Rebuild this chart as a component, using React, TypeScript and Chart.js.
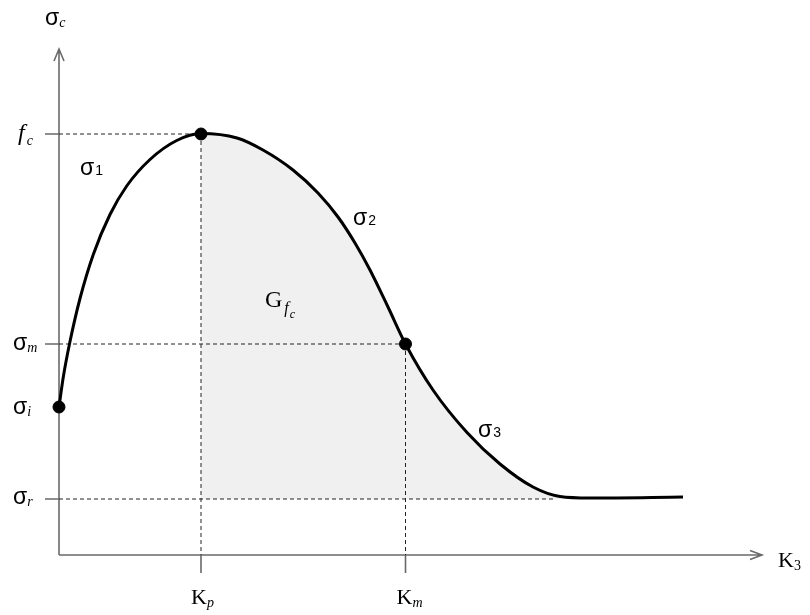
import React, { useEffect, useRef } from "react";
import { Chart, registerables } from "chart.js";

Chart.register(...registerables);

// Curve sigma_c(K3) (arbitrary units)
const K3_VALUES: number[] = [0, 0.43, 1.1, 2.1, 3.43, 5.1, 6.77, 9.1, 11.77, 14.2, 17.8, 20.4, 23.4, 25.9, 27.9, 29.6, 31.1, 32.9, 34.65, 37.4, 40.8, 44.1, 47.4, 50.1, 53.1, 62.4];
const SIGMA_VALUES: number[] = [14.8, 17.8, 21.35, 25.65, 30.05, 34.05, 36.9, 39.55, 41.45, 42.15, 41.7, 40.5, 38.5, 36.2, 33.8, 31.2, 28.5, 24.8, 21.1, 16.5, 12.25, 9.1, 6.8, 5.85, 5.7, 5.8];

// Characteristic values
const K_P = 14.2;
const K_M = 34.65;
const F_C = 42.1;
const SIGMA_M = 21.1;
const SIGMA_I = 14.8;
const SIGMA_R = 5.6;
const FILL_END = 50.1;
const SIGMA_R_LINE_END = 49.5;
const X_MAX = 70.4;
const Y_MAX = 50.6;

// Free labels: [main, subscript, x, y]
const CURVE_LABELS: [string, string, number, number][] = [
  ["σ", "1", 2.1, 38.0],
  ["σ", "2", 29.4, 33.0],
  ["σ", "3", 41.9, 11.8],
];
const AREA_LABEL: [string, number, number] = ["G", 20.6, 24.8];

const SERIF = '"Liberation Serif", "Times New Roman", serif';
const SANS = '"Liberation Sans", Arial, sans-serif';

function pts(xs: number[], ys: number[]) {
  return xs.map((x, i) => ({ x, y: ys[i] }));
}

const annotatePlugin = {
  id: "annotate",
  beforeDatasetsDraw(chart: any) {
    const ctx = chart.ctx as CanvasRenderingContext2D;
    const xs = chart.scales.x;
    const ys = chart.scales.y;
    const x0 = xs.getPixelForValue(0);
    const y0 = ys.getPixelForValue(0);
    const xEnd = xs.getPixelForValue(X_MAX) - 1;
    const yEnd = ys.getPixelForValue(Y_MAX);
    ctx.save();
    ctx.strokeStyle = "#6a6a6a";
    ctx.lineWidth = 1.6;
    ctx.lineCap = "butt";
    ctx.beginPath();
    ctx.moveTo(x0, y0);
    ctx.lineTo(x0, yEnd);
    ctx.moveTo(x0, y0);
    ctx.lineTo(xEnd, y0);
    ctx.moveTo(x0 - 5, yEnd + 12);
    ctx.lineTo(x0, yEnd);
    ctx.lineTo(x0 + 5, yEnd + 12);
    ctx.moveTo(xEnd - 12, y0 - 4.5);
    ctx.lineTo(xEnd, y0);
    ctx.lineTo(xEnd - 12, y0 + 4.5);
    for (const v of [F_C, SIGMA_M, SIGMA_R]) {
      const py = ys.getPixelForValue(v);
      ctx.moveTo(x0 - 14, py);
      ctx.lineTo(x0, py);
    }
    for (const v of [K_P, K_M]) {
      const px = xs.getPixelForValue(v);
      ctx.moveTo(px, y0);
      ctx.lineTo(px, y0 + 18);
    }
    ctx.stroke();
    ctx.restore();
  },
  afterDraw(chart: any) {
    const ctx = chart.ctx as CanvasRenderingContext2D;
    const xs = chart.scales.x;
    const ys = chart.scales.y;
    const x0 = xs.getPixelForValue(0);
    const y0 = ys.getPixelForValue(0);
    const xEnd = xs.getPixelForValue(X_MAX);
    const yEnd = ys.getPixelForValue(Y_MAX);
    ctx.save();
    ctx.fillStyle = "#000";
    ctx.textBaseline = "alphabetic";
    ctx.textAlign = "left";

    const sub = (main: string, s: string, x: number, y: number, mf: string, sf: string, dx: number, dy: number) => {
      ctx.font = mf;
      ctx.fillText(main, x, y);
      const w = ctx.measureText(main).width;
      ctx.font = sf;
      ctx.fillText(s, x + w + dx, y + dy);
    };

    const sigFont = `23px ${SANS}`;
    const subItal = `italic 14px ${SERIF}`;

    sub("σ", "c", x0 - 14, yEnd - 24, sigFont, subItal, 0, 2);
    sub("K", "3", xEnd + 15, y0 + 12, `22px ${SERIF}`, `14px ${SERIF}`, 0, 3);

    const yf = ys.getPixelForValue(F_C);
    sub("f", "c", x0 - 41, yf + 6, `italic 24px ${SERIF}`, subItal, 2, 5);
    sub("σ", "m", x0 - 46, ys.getPixelForValue(SIGMA_M) + 6, sigFont, subItal, 0, 2);
    sub("σ", "i", x0 - 46, ys.getPixelForValue(SIGMA_I) + 7, sigFont, subItal, 0, 2);
    sub("σ", "r", x0 - 46, ys.getPixelForValue(SIGMA_R) + 5, sigFont, subItal, 0, 2);

    sub("K", "p", xs.getPixelForValue(K_P) - 10, y0 + 49, `22px ${SERIF}`, subItal, 0, 3);
    sub("K", "m", xs.getPixelForValue(K_M) - 9, y0 + 49, `22px ${SERIF}`, subItal, 0, 3);

    for (const [m, s, x, y] of CURVE_LABELS) {
      sub(m, s, xs.getPixelForValue(x), ys.getPixelForValue(y), sigFont, `14px ${SANS}`, 1, 0);
    }

    const gx = xs.getPixelForValue(AREA_LABEL[1]);
    const gy = ys.getPixelForValue(AREA_LABEL[2]);
    ctx.font = `24px ${SERIF}`;
    ctx.fillText(AREA_LABEL[0], gx, gy);
    const gw = ctx.measureText(AREA_LABEL[0]).width;
    ctx.font = `italic 16px ${SERIF}`;
    ctx.fillText("f", gx + gw + 2, gy + 6);
    const fw = ctx.measureText("f").width;
    ctx.font = `italic 12px ${SERIF}`;
    ctx.fillText("c", gx + gw + fw + 3, gy + 11);
    ctx.restore();
  },
};

export default function App() {
  const ref = useRef<HTMLCanvasElement | null>(null);

  useEffect(() => {
    if (!ref.current) return;
    const curve = pts(K3_VALUES, SIGMA_VALUES);
    const fillPts = curve.filter((p) => p.x >= K_P && p.x <= FILL_END);
    const dashed = (data: { x: number; y: number }[]) => ({
      type: "line" as const,
      data,
      borderColor: "#222",
      borderWidth: 1,
      borderDash: [4, 3],
      pointRadius: 0,
      tension: 0,
      fill: false,
      clip: false as any,
      order: 5,
    });
    const chart = new Chart(ref.current, {
      type: "line",
      data: {
        datasets: [
          {
            data: fillPts,
            borderWidth: 0,
            borderColor: "rgba(0,0,0,0)",
            backgroundColor: "#f0f0f0",
            pointRadius: 0,
            cubicInterpolationMode: "monotone",
            fill: { value: SIGMA_R },
            order: 10,
          } as any,
          dashed([{ x: 0, y: F_C }, { x: K_P, y: F_C }]),
          dashed([{ x: K_P, y: F_C }, { x: K_P, y: 0 }]),
          dashed([{ x: 0, y: SIGMA_M }, { x: K_M, y: SIGMA_M }]),
          dashed([{ x: K_M, y: SIGMA_M }, { x: K_M, y: 0 }]),
          dashed([{ x: 0, y: SIGMA_R }, { x: SIGMA_R_LINE_END, y: SIGMA_R }]),
          {
            data: curve,
            borderColor: "#000",
            borderWidth: 3,
            pointRadius: 0,
            cubicInterpolationMode: "monotone",
            fill: false,
            clip: false,
            order: 1,
          } as any,
          {
            type: "scatter",
            data: [
              { x: 0, y: SIGMA_I },
              { x: K_P, y: F_C },
              { x: K_M, y: SIGMA_M },
            ],
            backgroundColor: "#000",
            borderColor: "#000",
            pointRadius: 6,
            showLine: false,
            clip: false,
            order: 0,
          } as any,
        ],
      },
      options: {
        animation: false,
        responsive: false,
        devicePixelRatio: 1,
        layout: { padding: { left: 59, right: 47, top: 49, bottom: 60 } },
        scales: {
          x: { type: "linear", min: 0, max: X_MAX, display: false },
          y: { type: "linear", min: 0, max: Y_MAX, display: false },
        },
        plugins: {
          legend: { display: false },
          tooltip: { enabled: false },
        },
        events: [],
      },
      plugins: [annotatePlugin],
    });
    return () => chart.destroy();
  }, []);

  return (
    <div style={{ position: "fixed", left: 0, top: 0, width: 810, height: 615, background: "#fff" }}>
      <canvas ref={ref} width={810} height={615} style={{ display: "block" }} />
    </div>
  );
}
